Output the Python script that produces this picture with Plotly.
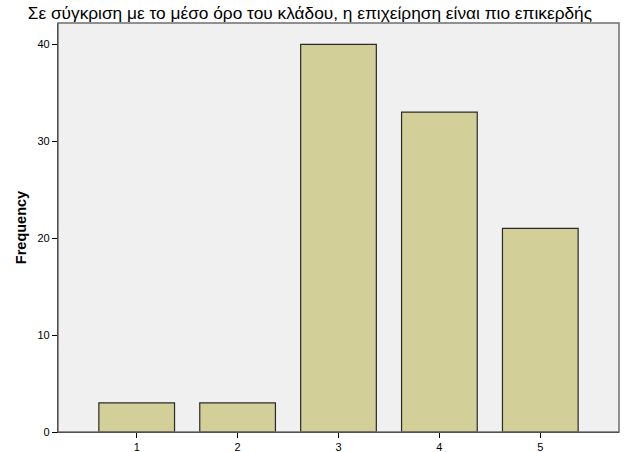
import plotly.graph_objects as go

categories = [1, 2, 3, 4, 5]
frequencies = [3, 3, 40, 33, 21]
y_ticks = [0, 10, 20, 30, 40]
title_text = "Σε σύγκριση με το μέσο όρο του κλάδου, η επιχείρηση είναι πιο επικερδής"

fig = go.Figure()
fig.add_trace(go.Bar(
    x=categories, y=frequencies, width=0.75,
    marker=dict(color="#D3CF98", line=dict(color="#2a2a2a", width=1.2)),
))

fig.update_layout(
    width=626, height=452,
    margin=dict(l=58, r=7, t=23, b=20, autoexpand=False),
    paper_bgcolor="white", plot_bgcolor="#F0F0F0",
    font=dict(family="Liberation Sans, Arial", size=11, color="black"),
    title=dict(text=title_text, x=0.495, xanchor="center", y=0.972, yanchor="middle",
               font=dict(size=17.3, color="black", family="Liberation Sans, Arial")),
    showlegend=False,
    shapes=[dict(type="rect", xref="paper", yref="paper", x0=0, x1=1, y0=0, y1=1,
                 line=dict(color="#6e6e6e", width=1.5), layer="above")],
)
fig.update_xaxes(
    range=[0.22, 5.78], tickvals=categories, ticktext=[str(c) for c in categories],
    ticks="outside", ticklen=5, tickcolor="black", showgrid=False, zeroline=False,
    showline=True, linecolor="black", linewidth=1.2, tickfont=dict(size=11),
    automargin=False,
)
fig.update_yaxes(
    range=[0, 42.2], tickvals=y_ticks, ticks="outside", ticklen=5, tickcolor="black",
    showgrid=False, zeroline=False, showline=True, linecolor="black", linewidth=1.2,
    title=dict(text="<b>Frequency</b>", font=dict(size=14.5), standoff=7),
    tickfont=dict(size=11), automargin=False,
)
fig.write_html("out.html", config={"displayModeBar": False},
               post_script="document.body.style.margin='0';document.body.style.padding='0';")
